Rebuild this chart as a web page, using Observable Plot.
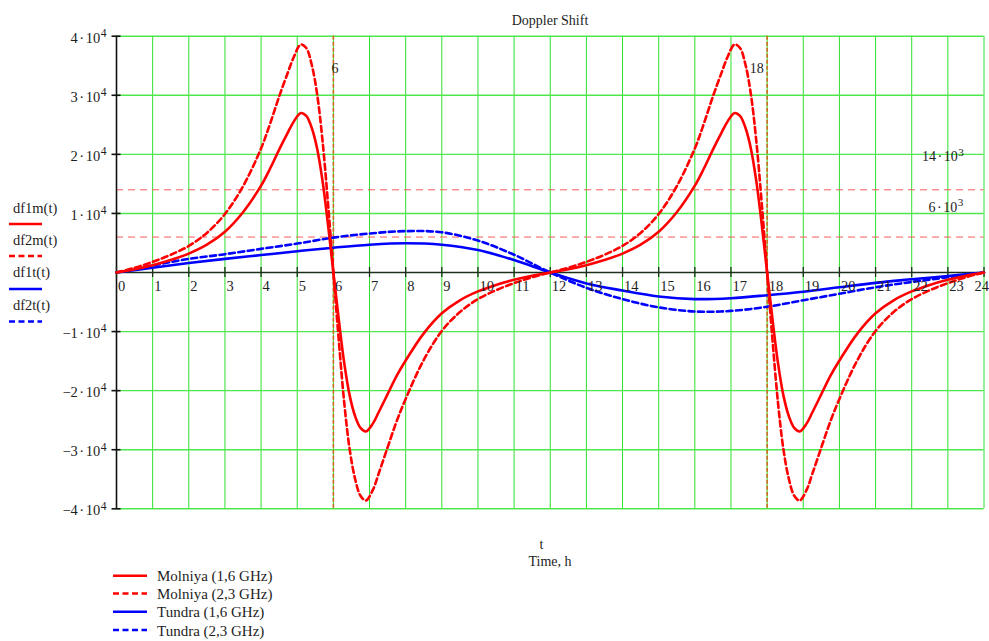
<!DOCTYPE html>
<html>
<head>
<meta charset="utf-8">
<script src="https://cdn.jsdelivr.net/npm/d3@7"></script>
<script src="https://cdn.jsdelivr.net/npm/@observablehq/plot@0.6"></script>
<style>
  html, body { margin: 0; padding: 0; background: #fff; }
  #wrap { position: relative; width: 989px; height: 641px; overflow: hidden; background: #fff; }
  #wrap > svg { position: absolute; left: 0; top: 0; }
</style>
</head>
<body>
<div id="wrap"></div>
<script>
// ---------- data ----------
const xTicks = [0,1,2,3,4,5,6,7,8,9,10,11,12,13,14,15,16,17,18,19,20,21,22,23,24];
const yTicks = [-40000,-30000,-20000,-10000,10000,20000,30000,40000];
const yTickLabels = ["−4·10^4","−3·10^4","−2·10^4","−1·10^4","1·10^4","2·10^4","3·10^4","4·10^4"];
const markers = [6, 18];
const markerLabels = ["6", "18"];
const refLevels = [14000, 6000];
const refLabels = ["14·10^3", "6·10^3"];

// Molniya (period 12 h)
const tM = [0,0.5,1,1.5,2,2.5,3,3.5,4,4.25,4.5,4.75,4.9,5.1,5.25,5.4,5.55,5.7,5.85,6,
  6.15,6.3,6.45,6.6,6.75,6.9,7.1,7.25,7.5,7.75,8,8.5,9,9.5,10,10.5,11,11.5,
  12,12.5,13,13.5,14,14.5,15,15.5,16,16.25,16.5,16.75,16.9,17.1,17.25,17.4,17.55,17.7,17.85,18,
  18.15,18.3,18.45,18.6,18.75,18.9,19.1,19.25,19.5,19.75,20,20.5,21,21.5,22,22.5,23,23.5,24];
const molniya16 = [0,550,1240,2100,3200,4700,6900,10200,14700,17600,20800,23800,25500,27000,26500,24500,21000,15500,8200,0,
  -8000,-15300,-20800,-24300,-26300,-26900,-25500,-23700,-20600,-17500,-14900,-10300,-6900,-4700,-3200,-2100,-1240,-550,
  0,550,1240,2100,3200,4700,6900,10200,14700,17600,20800,23800,25500,27000,26500,24500,21000,15500,8200,0,
  -8000,-15300,-20800,-24300,-26300,-26900,-25500,-23700,-20600,-17500,-14900,-10300,-6900,-4700,-3200,-2100,-1240,-550,0];
const molniya23 = [0,800,1800,3000,4500,6700,9900,14600,21000,25200,29800,34000,36400,38600,38000,35200,30200,22300,11800,0,
  -11500,-22000,-29900,-34900,-37800,-38600,-36700,-34100,-29600,-25200,-21400,-14800,-9900,-6700,-4500,-3000,-1800,-800,
  0,800,1800,3000,4500,6700,9900,14600,21000,25200,29800,34000,36400,38600,38000,35200,30200,22300,11800,0,
  -11500,-22000,-29900,-34900,-37800,-38600,-36700,-34100,-29600,-25200,-21400,-14800,-9900,-6700,-4500,-3000,-1800,-800,0];

// Tundra (period 24 h)
const tT = [0,1,2,3,4,5,6,7,8,9,10,11,12,13,14,15,16,17,18,19,20,21,22,23,24];
const tundra16 = [0,800,1600,2300,2950,3600,4200,4700,4950,4700,3800,2100,0,-1850,-3050,-4050,-4500,-4350,-3850,-3250,-2500,-1750,-1150,-580,0];
const tundra23 = [0,1200,2300,3100,4000,4900,5900,6600,7000,6800,5400,3000,0,-2600,-4500,-5900,-6600,-6500,-5800,-4700,-3600,-2500,-1600,-800,0];

const seriesNames = ["Molniya (1,6 GHz)","Molniya (2,3 GHz)","Tundra (1,6 GHz)","Tundra (2,3 GHz)"];
const fnNames = ["df1m(t)","df2m(t)","df1t(t)","df2t(t)"];

// ---------- build ----------
const toRows = (ts, vs) => ts.map((t, i) => ({t, v: vs[i]}));
const FONT = "'Liberation Serif', 'Times New Roman', serif";
const RED = "#ff0000", BLUE = "#0000ff", GREEN = "#2ee02e", INK = "#1e1e1e";
const DASH = "6,3.5";
const lastTick = xTicks[xTicks.length - 1];

const chart = Plot.plot({
  width: 989, height: 520,
  marginLeft: 116, marginRight: 5.5, marginTop: 35.7, marginBottom: 11.7,
  x: {domain: [0, 24], axis: null},
  y: {domain: [-40000, 40000], axis: null},
  style: {fontFamily: FONT, fontSize: "14px", background: "transparent", overflow: "visible"},
  marks: [
    Plot.ruleX(xTicks, {stroke: GREEN, strokeWidth: 1}),
    Plot.ruleY(yTicks, {stroke: "#4ee84e", strokeWidth: 1.4}),
    Plot.ruleY(refLevels, {stroke: "#ff5a5a", strokeWidth: 1, strokeDasharray: "7,5"}),
    Plot.ruleX(markers, {stroke: "#d2691e", strokeWidth: 1.6, strokeDasharray: "4,2"}),
    Plot.ruleX([0], {stroke: "#111", strokeWidth: 1.6}),
    Plot.ruleY([0], {stroke: "#1c301c", strokeWidth: 1.6}),
    Plot.ruleX(xTicks, {y1: 0, y2: 0, insetTop: -5, insetBottom: -5, stroke: "#1c301c", strokeWidth: 1.3}),
    Plot.ruleY(yTicks, {x1: 0, x2: 0, insetLeft: -4.5, insetRight: -4.5, stroke: "#111", strokeWidth: 1.6}),
    Plot.line(toRows(tT, tundra16), {x: "t", y: "v", stroke: BLUE, strokeWidth: 2.6, curve: "catmull-rom"}),
    Plot.line(toRows(tT, tundra23), {x: "t", y: "v", stroke: BLUE, strokeWidth: 2.6, strokeDasharray: DASH, curve: "catmull-rom"}),
    Plot.line(toRows(tM, molniya16), {x: "t", y: "v", stroke: RED, strokeWidth: 2.6, curve: "catmull-rom"}),
    Plot.line(toRows(tM, molniya23), {x: "t", y: "v", stroke: RED, strokeWidth: 2.6, strokeDasharray: DASH, curve: "catmull-rom"}),
    Plot.text(xTicks.filter(d => d !== lastTick), {x: d => d, y: 0, text: d => String(d), textAnchor: "start", dx: 1.5, dy: 13.5, fontSize: 14.5, fill: INK}),
    Plot.text([lastTick], {x: d => d, y: 0, text: d => String(d), textAnchor: "end", dx: 5, dy: 13.5, fontSize: 14.5, fill: INK}),
    Plot.text(yTicks, {x: 0, y: d => d, text: (d, i) => yTickLabels[i], textAnchor: "end", dx: -10, dy: 2, fontSize: 14.5, fill: INK}),
    Plot.text([markers[0]], {x: d => d, y: 40000, text: [markerLabels[0]], textAnchor: "middle", dx: 1.5, dy: 32, fontSize: 14, fill: INK}),
    Plot.text([markers[1]], {x: d => d, y: 40000, text: [markerLabels[1]], textAnchor: "end", dx: -3.5, dy: 32, fontSize: 14, fill: INK}),
    Plot.text([refLevels[0]], {x: 24, y: d => d, text: [refLabels[0]], textAnchor: "start", dx: -62, dy: -33, fontSize: 14, fill: INK}),
    Plot.text([refLevels[1]], {x: 24, y: d => d, text: [refLabels[1]], textAnchor: "start", dx: -55.5, dy: -30, fontSize: 14, fill: INK})
  ]
});

// turn "a·10^b" labels into real text with a superscript
d3.select(chart).selectAll("text").each(function () {
  const s = this.textContent;
  if (!s.includes("^")) return;
  const [base, exp] = s.split("^");
  const [mant, ten] = base.split("·");
  const el = d3.select(this);
  el.text(null);
  el.append("tspan").text(mant);
  el.append("tspan").attr("dx", 1.5).text("·");
  el.append("tspan").attr("dx", 1.5).text(ten);
  el.append("tspan").attr("dx", 0.5).attr("dy", "-0.5em").attr("font-size", "0.8em").text(exp);
});

const wrap = document.getElementById("wrap");
wrap.appendChild(chart);

// ---------- titles and legends ----------
const ov = d3.select(wrap).append("svg")
  .attr("width", 989).attr("height", 641)
  .style("font-family", FONT).style("pointer-events", "none");

ov.append("text").attr("x", 550).attr("y", 24.5).attr("text-anchor", "middle")
  .attr("font-size", 14).attr("fill", INK).text("Doppler Shift");
ov.append("text").attr("x", 541.5).attr("y", 549).attr("text-anchor", "middle")
  .attr("font-size", 14).attr("fill", INK).text("t");
ov.append("text").attr("x", 550).attr("y", 566).attr("text-anchor", "middle")
  .attr("font-size", 14).attr("fill", INK).text("Time, h");

const legColors = [RED, RED, BLUE, BLUE];
const legDash = [null, DASH, null, DASH];

// left legend (function names)
const leftTextY = [212.5, 244.5, 277, 309.5];
const leftLineY = [224, 256, 289, 321.5];
fnNames.forEach((name, i) => {
  ov.append("text").attr("x", 13).attr("y", leftTextY[i]).attr("font-size", 14.5)
    .attr("fill", INK).text(name);
  ov.append("line").attr("x1", 9).attr("x2", 42).attr("y1", leftLineY[i]).attr("y2", leftLineY[i])
    .attr("stroke", legColors[i]).attr("stroke-width", 2.6)
    .attr("stroke-dasharray", legDash[i]);
});

// bottom legend
const botLineY = [575.7, 593.5, 611.7, 630];
seriesNames.forEach((name, i) => {
  ov.append("line").attr("x1", 113).attr("x2", 147).attr("y1", botLineY[i]).attr("y2", botLineY[i])
    .attr("stroke", legColors[i]).attr("stroke-width", 2.6)
    .attr("stroke-dasharray", legDash[i]);
  ov.append("text").attr("x", 157).attr("y", botLineY[i] + 5.5).attr("font-size", 15)
    .attr("fill", INK).text(name);
});
</script>
</body>
</html>
